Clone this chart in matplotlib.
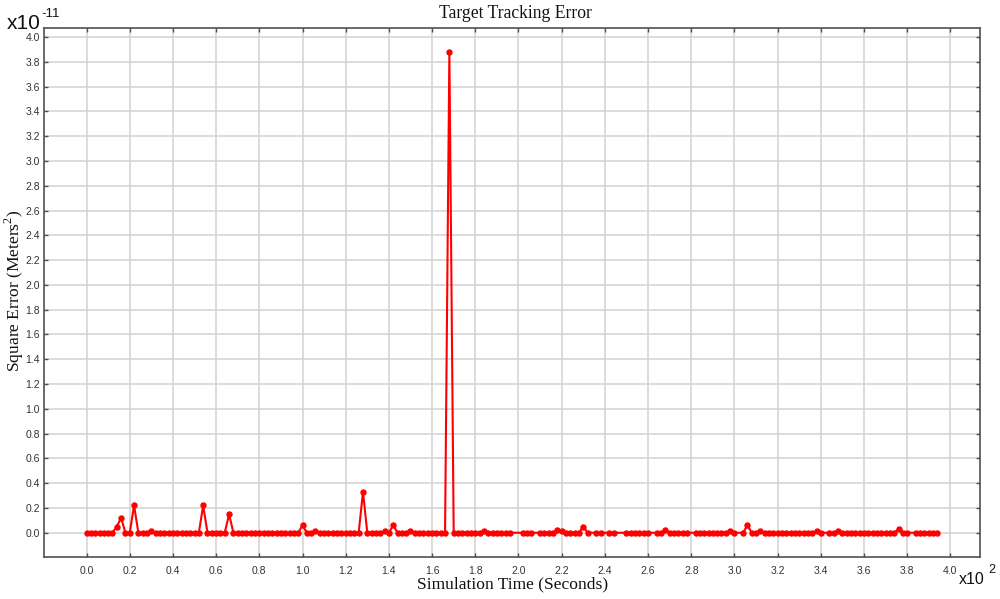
import numpy as np
import matplotlib
matplotlib.use('Agg')
import matplotlib.pyplot as plt
from matplotlib.ticker import MultipleLocator, FormatStrFormatter

plt.rcParams['mathtext.fontset'] = 'custom'
plt.rcParams['mathtext.rm'] = 'Liberation Serif'

# sample times (seconds), every 2 s from 0 to 394
time_s = np.arange(0, 396, 2)

# square error, units of 1e-11 m^2
sq_error = [
    0, 0, 0, 0, 0, 0, 0, 0.05, 0.12, 0,
    0, 0.22, 0, 0, 0, 0.01, 0, 0, 0, 0,
    0, 0, 0, 0, 0, 0, 0, 0.22, 0, 0,
    0, 0, 0, 0.15, 0, 0, 0, 0, 0, 0,
    0, 0, 0, 0, 0, 0, 0, 0, 0, 0,
    0.06, 0, 0, 0.01, 0, 0, 0, 0, 0, 0,
    0, 0, 0, 0, 0.33, 0, 0, 0, 0, 0.01,
    0, 0.06, 0, 0, 0, 0.01, 0, 0, 0, 0,
    0, 0, 0, 0, 3.88, 0, 0, 0, 0, 0,
    0, 0, 0.01, 0, 0, 0, 0, 0, 0, 0,
    0, 0, 0, 0, 0, 0, 0, 0, 0, 0.02,
    0.01, 0, 0, 0, 0, 0.05, 0, 0, 0, 0,
    0, 0, 0, 0, 0, 0, 0, 0, 0, 0,
    0, 0, 0, 0, 0.02, 0, 0, 0, 0, 0,
    0, 0, 0, 0, 0, 0, 0, 0, 0, 0.01,
    0, 0, 0, 0.06, 0, 0, 0.01, 0, 0, 0,
    0, 0, 0, 0, 0, 0, 0, 0, 0, 0.01,
    0, 0, 0, 0, 0.01, 0, 0, 0, 0, 0,
    0, 0, 0, 0, 0, 0, 0, 0, 0.03, 0,
    0, 0, 0, 0, 0, 0, 0, 0,
]

# samples drawn without a marker in the original
no_marker_t = [198, 200, 208, 234, 240, 246, 248, 262, 280, 302, 342, 382]

x = time_s / 100.0
marks = [t not in no_marker_t for t in time_s]

fig = plt.figure(figsize=(10, 5.99), dpi=100)
ax = fig.add_axes([0.044, 0.0705, 0.936, 0.8828])

ax.plot(x, sq_error, color='#ff0000', lw=1.5, marker='o', markersize=3.6,
        markevery=marks, zorder=3)

ax.xaxis.set_major_locator(MultipleLocator(0.2))
ax.yaxis.set_major_locator(MultipleLocator(0.2))
ax.xaxis.set_major_formatter(FormatStrFormatter('%.1f'))
ax.yaxis.set_major_formatter(FormatStrFormatter('%.1f'))
ax.margins(0.05)

ax.grid(True, color='#d2d2d2', lw=1.1)
ax.set_axisbelow(True)
for s in ax.spines.values():
    s.set_color('#505050')
    s.set_linewidth(1.2)
ax.tick_params(direction='in', length=3, width=1, color='#505050',
               top=True, right=True, labelsize=7.5, labelcolor='#333333')
ax.tick_params(axis='x', pad=7)
ax.tick_params(axis='y', pad=3)
for lab in ax.get_xticklabels() + ax.get_yticklabels():
    lab.set_family('Liberation Sans')

fig.text(0.515, 0.977, 'Target Tracking Error', family='Liberation Serif',
         fontsize=12.7, ha='center', va='center', color='#111111')
fig.text(0.513, 0.024, 'Simulation Time (Seconds)', family='Liberation Serif',
         fontsize=12.6, ha='center', va='center', color='#111111')
fig.text(0.014, 0.515, 'Square Error (Meters$^2$)', family='Liberation Serif',
         fontsize=12.6, ha='center', va='center', rotation=90, color='#111111')

fig.text(0.007, 0.952, 'x10', family='Liberation Sans', fontsize=15,
         ha='left', va='baseline', color='#111111')
fig.text(0.041, 0.971, '-11', family='Liberation Sans', fontsize=9.5,
         ha='left', va='baseline', color='#111111')
fig.text(0.959, 0.025, 'x10', family='Liberation Sans', fontsize=11.5,
         ha='left', va='baseline', color='#111111')
fig.text(0.988, 0.043, '2', family='Liberation Sans', fontsize=9,
         ha='left', va='baseline', color='#111111')

fig.savefig('out.png', dpi=100)
